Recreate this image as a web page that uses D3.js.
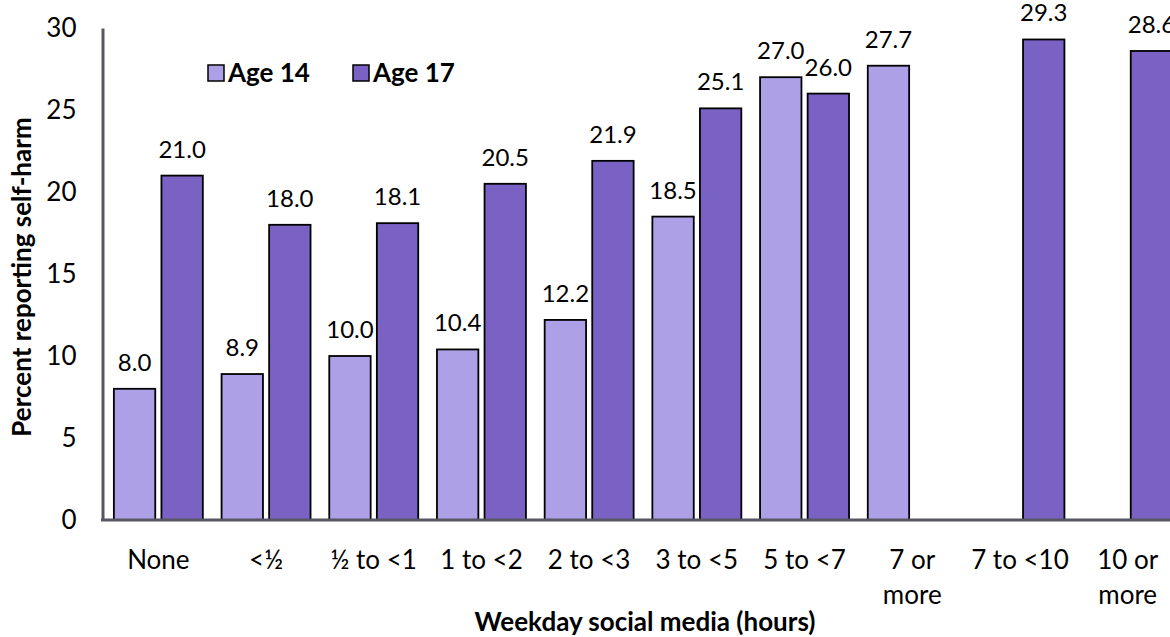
<!DOCTYPE html>
<html>
<head>
<meta charset="utf-8">
<script src="https://cdn.jsdelivr.net/npm/d3@7"></script>
<style>
  html, body { margin: 0; padding: 0; background: #fff; overflow: hidden; }
  svg { display: block; font-family: Lato, "Open Sans", sans-serif; }
</style>
</head>
<body>
<svg id="chart" width="1170" height="637"></svg>
<script>
const categories = ["None", "<½", "½ to <1", "1 to <2", "2 to <3", "3 to <5", "5 to <7", "7 or more", "7 to <10", "10 or more"];
const tickLabels = ["None", "<½", "½ to <1", "1 to <2", "2 to <3", "3 to <5", "5 to <7", "7 or\nmore", "7 to <10", "10 or\nmore"];
const seriesNames = ["Age 14", "Age 17"];
const age14 = [8.0, 8.9, 10.0, 10.4, 12.2, 18.5, 27.0, 27.7, null, null];
const age17 = [21.0, 18.0, 18.1, 20.5, 21.9, 25.1, 26.0, null, 29.3, 28.6];
const yTicks = [0, 5, 10, 15, 20, 25, 30];
const colors = ["#ADA0E6", "#7A62C5"];

const svg = d3.select("#chart");
const axisColor = "#575763";

const x0 = d3.scaleBand().domain(categories).range([104.5, 1181.5]).paddingInner(0.174).paddingOuter(0.087);
const x1 = d3.scaleBand().domain(seriesNames).range([0, x0.bandwidth()]).paddingInner(0.13);
const y = d3.scaleLinear().domain([0, 30]).range([520, 28]);

const rows = categories.map((c, i) => ({cat: c, vals: [age14[i], age17[i]]}));

// bars
const groups = svg.append("g").selectAll("g").data(rows).join("g")
  .attr("transform", d => `translate(${x0(d.cat)},0)`);

groups.selectAll("rect")
  .data(d => d.vals.map((v, k) => ({s: seriesNames[k], v, k})).filter(e => e.v != null))
  .join("rect")
  .attr("x", e => x1(e.s))
  .attr("width", x1.bandwidth())
  .attr("y", e => y(e.v))
  .attr("height", e => y(0) - y(e.v))
  .attr("fill", e => colors[e.k])
  .attr("stroke", "#000")
  .attr("stroke-width", 1.8);

groups.selectAll("text.val")
  .data(d => d.vals.map((v, k) => ({s: seriesNames[k], v, k})).filter(e => e.v != null))
  .join("text")
  .attr("class", "val")
  .attr("x", e => x1(e.s) + x1.bandwidth() / 2)
  .attr("y", e => y(e.v) - 18)
  .attr("text-anchor", "middle")
  .attr("font-size", 24)
  .attr("fill", "#000")
  .text(e => e.v.toFixed(1));

// y axis
const yAxis = d3.axisLeft(y).tickValues(yTicks).tickSize(0).tickPadding(26).tickFormat(d3.format("d"));
const gy = svg.append("g").attr("transform", "translate(102.5,0)").call(yAxis);
gy.select(".domain").attr("stroke", axisColor).attr("stroke-width", 3);
gy.selectAll("text").attr("font-size", 26).attr("font-family", "Lato, sans-serif").attr("fill", "#000");

// x axis
const xAxis = d3.axisBottom(x0).tickSize(0).tickFormat(() => "");
const gx = svg.append("g").attr("transform", "translate(0,520)").call(xAxis);
gx.select(".domain").attr("d", "M101,0H1175").attr("stroke", axisColor).attr("stroke-width", 3);
gx.selectAll(".tick").each(function(d, i) {
  const lines = tickLabels[i].split("\n");
  const t = d3.select(this).append("text")
    .attr("fill", "#000").attr("font-size", 26).attr("text-anchor", "middle")
    .attr("font-family", "Lato, sans-serif");
  lines.forEach((ln, j) => {
    t.append("tspan").attr("x", 0).attr("y", 49 + j * 35).text(ln);
  });
});

// axis titles
svg.append("text")
  .attr("transform", "translate(31,277) rotate(-90)")
  .attr("text-anchor", "middle")
  .attr("font-size", 26).attr("font-weight", "bold")
  .text("Percent reporting self-harm");

svg.append("text")
  .attr("x", 645).attr("y", 631)
  .attr("text-anchor", "middle")
  .attr("font-size", 26).attr("font-weight", "bold")
  .text("Weekday social media (hours)");

// legend
const legendX = [208, 353];
const leg = svg.append("g").selectAll("g").data(seriesNames).join("g")
  .attr("transform", (d, i) => `translate(${legendX[i]},65)`);
leg.append("rect").attr("width", 16).attr("height", 16)
  .attr("fill", (d, i) => colors[i]).attr("stroke", "#000").attr("stroke-width", 1.5);
leg.append("text").attr("x", 20).attr("y", 17)
  .attr("font-size", 26).attr("font-weight", "bold").text(d => d);
</script>
</body>
</html>
